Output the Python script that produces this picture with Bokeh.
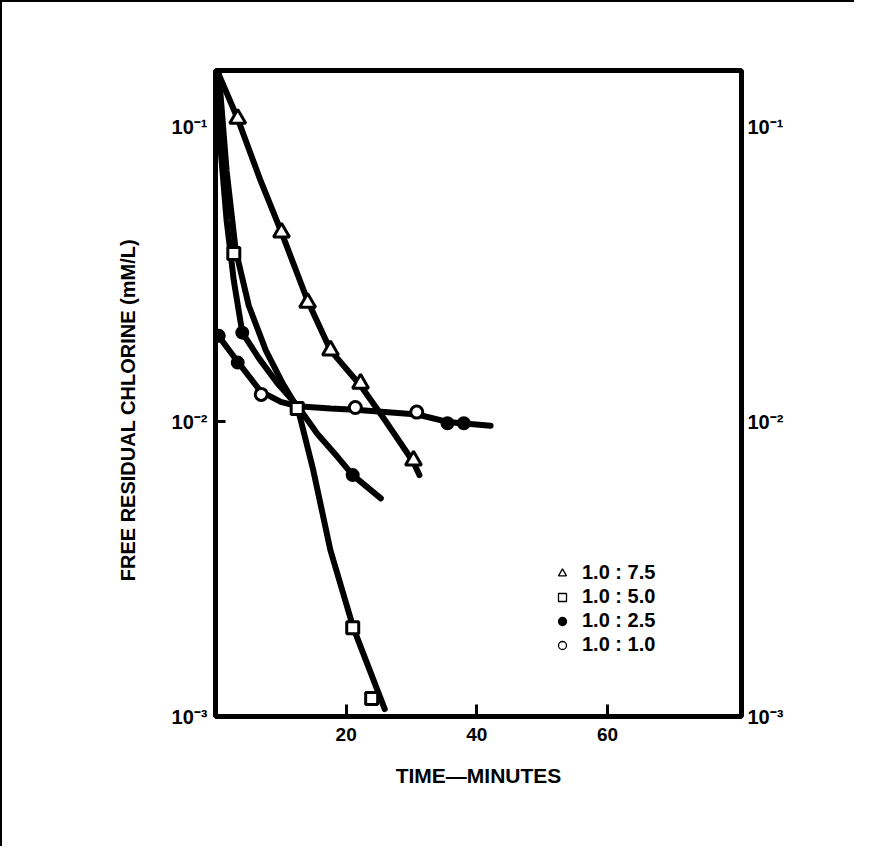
from bokeh.plotting import figure
from bokeh.models import LogAxis, FixedTicker, Legend, LegendItem
from bokeh.embed import file_html
from bokeh.resources import INLINE

# ---- measured points (time in minutes, free residual chlorine in mM/L) ----
tri_t = [3.4, 10.1, 14.1, 17.6, 22.2, 30.3]
tri_c = [0.107, 0.044, 0.0254, 0.0175, 0.0135, 0.0074]
sq_t = [2.8, 12.5, 21.0, 23.9]
sq_c = [0.0373, 0.0111, 0.0020, 0.00115]
fc_t = [0.5, 3.4, 4.1, 21.0, 35.5, 38.0]
fc_c = [0.0196, 0.0159, 0.0201, 0.0066, 0.0099, 0.0099]
oc_t = [7.0, 21.4, 30.8]
oc_c = [0.0124, 0.0112, 0.0108]

# ---- drawn curves ----
c75_t = [0.3, 3.4, 6.9, 10.1, 14.1, 17.6, 22.2, 26.0, 30.3, 31.2]
c75_c = [0.155, 0.107, 0.0659, 0.0440, 0.0258, 0.0175, 0.0133, 0.0101, 0.0073, 0.0066]
c50_t = [0.5, 1.7, 3.1, 5.1, 7.7, 10.3, 12.6, 14.9, 17.6, 21.1, 25.9]
c50_c = [0.1535, 0.0712, 0.0382, 0.0248, 0.0175, 0.0135, 0.0111, 0.00695, 0.00366, 0.0020, 0.00106]
c25_t = [0.15, 0.8, 1.7, 2.8, 4.1, 6.6, 9.5, 12.6, 15.6, 18.7, 21.0, 25.3]
c25_c = [0.128, 0.0834, 0.0483, 0.0302, 0.0201, 0.0165, 0.0135, 0.0113, 0.0091, 0.0076, 0.0066, 0.0055]
c10_t = [0.15, 3.4, 6.9, 10.0, 12.6, 17.6, 21.4, 30.9, 35.5, 42.1]
c10_c = [0.0200, 0.0160, 0.0127, 0.0117, 0.0113, 0.0111, 0.0110, 0.0106, 0.0100, 0.0097]

legend_labels = ["1.0 : 7.5", "1.0 : 5.0", "1.0 : 2.5", "1.0 : 1.0"]
x_ticks = [20, 40, 60]
y_ticks = [0.001, 0.01, 0.1]
y_tick_labels = {0.001: "10\u207b\u00b3", 0.01: "10\u207b\u00b2", 0.1: "10\u207b\u00b9"}

FONT = "Liberation Sans"

p = figure(width=854, height=846, x_range=(0, 80.5), y_range=(0.001, 0.156),
           y_axis_type="log", output_backend="svg", toolbar_location=None,
           min_border_left=213, min_border_right=115, min_border_top=68,
           min_border_bottom=132)
p.styles = {"border-left": "2px solid black", "border-top": "2px solid black"}
p.background_fill_color = "white"
p.border_fill_color = "white"
p.outline_line_color = "black"
p.outline_line_width = 5
p.xgrid.grid_line_color = None
p.ygrid.grid_line_color = None

# bottom axis
xa = p.xaxis[0]
xa.ticker = FixedTicker(ticks=x_ticks)
xa.axis_line_color = None
xa.major_tick_in = 12
xa.major_tick_out = 0
xa.major_tick_line_width = 3
xa.minor_tick_line_color = None
xa.major_label_text_font = FONT
xa.major_label_text_font_style = "bold"
xa.major_label_text_font_size = "19px"
xa.major_label_text_color = "black"
xa.major_label_standoff = 11
xa.axis_label = "TIME\u2014MINUTES"
xa.axis_label_text_font = FONT
xa.axis_label_text_font_style = "bold"
xa.axis_label_text_font_size = "21px"
xa.axis_label_text_color = "black"
xa.axis_label_standoff = 20

# left axis
ya = p.yaxis[0]
ya.ticker = FixedTicker(ticks=y_ticks)
ya.major_label_overrides = y_tick_labels
ya.axis_line_color = None
ya.major_tick_in = 10
ya.major_tick_out = 0
ya.major_tick_line_width = 3
ya.minor_tick_line_color = None
ya.major_label_text_font = FONT
ya.major_label_text_font_style = "bold"
ya.major_label_text_font_size = "20px"
ya.major_label_text_color = "black"
ya.major_label_standoff = 8
ya.axis_label = "FREE RESIDUAL CHLORINE (mM/L)" + "\u00a0" * 6
ya.axis_label_text_font = FONT
ya.axis_label_text_font_style = "bold"
ya.axis_label_text_font_size = "20px"
ya.axis_label_text_color = "black"
ya.axis_label_standoff = 30

# right axis
ra = LogAxis(ticker=FixedTicker(ticks=y_ticks), major_label_overrides=y_tick_labels)
ra.axis_line_color = None
ra.major_tick_in = 0
ra.major_tick_out = 0
ra.minor_tick_line_color = None
ra.major_label_text_font = FONT
ra.major_label_text_font_style = "bold"
ra.major_label_text_font_size = "20px"
ra.major_label_text_color = "black"
ra.major_label_standoff = 6
p.add_layout(ra, "right")

# curves
for t, c in [(c75_t, c75_c), (c50_t, c50_c), (c25_t, c25_c), (c10_t, c10_c)]:
    p.line(t, c, line_color="black", line_width=6, line_join="round", line_cap="round")

# markers
r_tri = p.scatter(tri_t, tri_c, marker="triangle", size=16, fill_color="white",
                  line_color="black", line_width=3)
r_sq = p.scatter(sq_t, sq_c, marker="square", size=12, fill_color="white",
                 line_color="black", line_width=3)
r_fc = p.scatter(fc_t, fc_c, marker="circle", size=12, fill_color="black",
                 line_color="black", line_width=2)
r_oc = p.scatter(oc_t, oc_c, marker="circle", size=12, fill_color="white",
                 line_color="black", line_width=3)

# legend-only glyphs (hidden, thin outlines for the key)
lg = []
for (t, c), mk, fill in [((tri_t, tri_c), "triangle", "white"), ((sq_t, sq_c), "square", "white"),
                         ((fc_t, fc_c), "circle", "black"), ((oc_t, oc_c), "circle", "white")]:
    r = p.scatter(t, c, marker=mk, fill_color=fill, line_color="black", line_width=1.3)
    r.visible = False
    lg.append(r)

legend = Legend(items=[LegendItem(label=l, renderers=[r]) for l, r in zip(legend_labels, lg)],
                location=(337, 60))
legend.border_line_color = None
legend.background_fill_alpha = 0
legend.padding = 0
legend.margin = 0
legend.spacing = 1
legend.glyph_width = 20
legend.glyph_height = 20
legend.label_standoff = 10
legend.label_text_font = FONT
legend.label_text_font_style = "bold"
legend.label_text_font_size = "20px"
legend.label_text_color = "black"
legend.label_height = 20
p.add_layout(legend)

open("out.html", "w").write(file_html(p, INLINE))
